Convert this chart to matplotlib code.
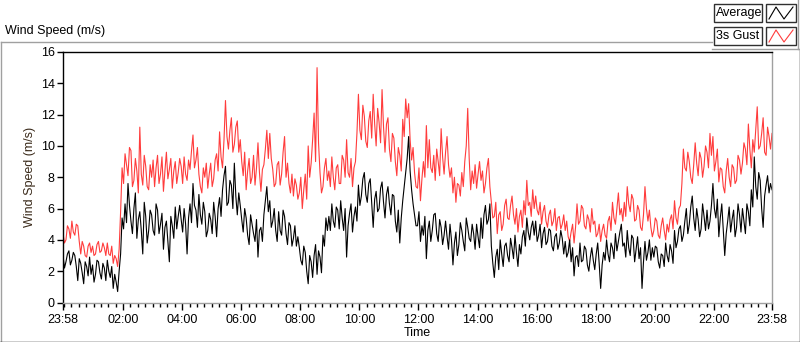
import numpy as np
import matplotlib
matplotlib.use("Agg")
import matplotlib.pyplot as plt
from matplotlib.lines import Line2D
from matplotlib.patches import Rectangle

plt.rcParams['font.family'] = ['Liberation Sans', 'DejaVu Sans']

# 3-minute samples, one row per hour, starting at 23:58
avg_speed = [
    3.0, 2.2, 2.6, 3.1, 3.3, 2.4, 2.7, 3.2, 3.0, 2.3, 1.4, 2.8, 2.5, 1.9, 1.2, 2.6, 2.3, 1.7, 2.9, 1.8,
    2.4, 1.3, 1.8, 2.7, 2.6, 1.9, 1.5, 2.5, 2.2, 1.4, 2.7, 2.0, 1.6, 2.3, 0.9, 1.8, 1.3, 0.7, 2.0, 3.1,
    5.4, 4.7, 6.3, 5.1, 7.6, 6.2, 5.2, 4.4, 6.0, 7.0, 4.1, 5.3, 5.8, 4.6, 3.1, 6.4, 5.5, 3.8, 4.6, 5.9,
    5.6, 4.6, 4.3, 6.3, 5.9, 4.4, 5.0, 5.7, 3.4, 4.8, 5.2, 3.9, 2.6, 5.5, 4.9, 4.1, 6.1, 4.7, 5.5, 6.2,
    5.3, 4.5, 6.0, 5.0, 3.1, 5.4, 6.3, 5.1, 7.6, 6.2, 5.9, 4.8, 6.9, 5.6, 5.0, 6.4, 5.8, 4.2, 4.6, 5.7,
    5.3, 4.4, 6.4, 5.5, 4.2, 6.0, 6.7, 5.5, 7.2, 8.1, 8.7, 6.2, 6.4, 7.8, 7.5, 6.0, 8.9, 6.8, 5.6, 7.0,
    6.2, 5.3, 4.5, 6.0, 5.4, 4.3, 3.7, 5.6, 5.0, 4.4, 3.9, 5.3, 2.9, 4.6, 4.8, 3.9, 5.6, 6.5, 7.4, 5.8,
    6.5, 4.8, 5.2, 6.0, 4.6, 3.9, 5.8, 4.6, 4.3, 5.9, 5.5, 4.4, 3.7, 5.1, 4.9, 3.6, 4.1, 4.9, 3.6, 4.2,
    3.5, 2.7, 2.4, 3.6, 3.2, 2.0, 1.2, 3.0, 2.6, 1.6, 3.0, 3.7, 1.8, 3.3, 2.9, 1.9, 4.3, 3.6, 5.4, 4.6,
    5.5, 4.6, 6.3, 5.2, 4.8, 6.1, 5.9, 4.7, 6.5, 5.4, 4.6, 6.0, 2.9, 4.9, 5.7, 6.3, 4.5, 5.5, 6.1, 5.2,
    7.5, 6.2, 6.8, 7.9, 8.3, 6.9, 6.4, 7.6, 7.9, 6.3, 4.8, 6.6, 7.1, 5.8, 6.0, 7.3, 7.7, 6.4, 5.4, 6.9,
    7.4, 6.3, 5.6, 6.9, 6.8, 5.2, 4.5, 5.9, 3.8, 5.4, 6.5, 7.4, 8.3, 9.2, 10.6, 8.4, 7.2, 6.3, 5.6, 4.9,
    4.9, 5.8, 3.9, 4.9, 4.3, 5.5, 2.8, 4.6, 5.2, 3.9, 4.6, 5.6, 5.7, 4.4, 3.9, 5.3, 4.8, 3.7, 4.3, 5.2,
    4.2, 3.4, 5.0, 4.0, 2.4, 3.8, 4.5, 3.0, 3.7, 5.1, 4.6, 3.9, 3.3, 5.4, 4.8, 4.1, 3.9, 5.0, 4.4, 3.4,
    5.0, 4.2, 3.5, 5.4, 4.1, 5.6, 6.2, 5.0, 5.3, 6.3, 3.6, 2.5, 1.6, 2.9, 3.4, 2.1, 4.0, 3.1, 2.3, 3.6,
    3.8, 3.0, 2.6, 4.1, 3.5, 2.8, 4.3, 3.2, 2.3, 3.7, 3.1, 4.2, 4.6, 3.6, 5.4, 4.5, 4.0, 4.8, 5.2, 4.3,
    5.2, 3.9, 4.3, 5.0, 3.5, 4.4, 4.8, 3.7, 3.9, 4.7, 4.6, 3.6, 3.3, 4.2, 4.4, 3.4, 3.8, 4.6, 4.1, 3.1,
    3.9, 2.9, 3.2, 4.0, 2.6, 3.5, 1.7, 2.9, 3.0, 2.3, 3.8, 2.6, 2.7, 3.6, 3.4, 2.4, 2.0, 2.9, 3.5, 2.7,
    2.1, 3.1, 3.8, 2.5, 0.9, 2.4, 3.2, 2.7, 4.0, 3.1, 2.6, 3.8, 3.5, 2.8, 4.4, 3.3, 3.9, 4.5, 5.0, 3.6,
    3.8, 2.9, 4.6, 3.5, 3.0, 4.3, 4.1, 2.6, 3.4, 4.2, 2.8, 3.5, 0.9, 2.6, 3.9, 2.7, 3.2, 4.0, 2.7, 3.5,
    2.9, 3.6, 3.5, 2.6, 2.2, 3.1, 3.0, 2.3, 3.8, 3.0, 2.6, 3.7, 3.3, 2.5, 4.6, 3.5, 3.9, 4.7, 4.9, 3.9,
    4.3, 5.2, 6.0, 4.4, 5.0, 6.1, 6.8, 5.4, 4.6, 6.0, 5.3, 4.2, 4.7, 6.3, 5.5, 4.6, 5.9, 4.7, 5.2, 6.2,
    7.6, 6.0, 5.4, 6.6, 4.2, 5.4, 6.3, 4.6, 3.0, 4.4, 5.2, 6.1, 4.5, 5.3, 5.9, 4.2, 4.8, 6.3, 5.6, 4.5,
    6.0, 5.2, 4.4, 6.3, 5.8, 4.9, 7.2, 6.1, 9.3, 7.4, 6.6, 8.3, 7.8, 6.0, 4.8, 6.8, 7.5, 8.1, 7.0, 7.6,
    7.2,
]
gust_speed = [
    4.4, 3.8, 4.0, 4.9, 4.7, 4.1, 5.2, 4.5, 4.3, 5.0, 4.9, 3.9, 3.1, 3.9, 3.6, 3.0, 2.9, 3.6, 3.8, 3.2,
    3.6, 3.0, 3.1, 3.7, 3.9, 3.2, 3.3, 3.8, 3.5, 3.0, 3.8, 3.1, 3.0, 3.6, 2.5, 3.0, 2.8, 2.3, 3.4, 5.8,
    8.6, 7.6, 9.5, 8.8, 8.1, 9.9, 9.7, 7.4, 7.8, 9.2, 8.4, 7.0, 11.2, 8.2, 7.5, 9.4, 8.7, 7.4, 7.2, 8.8,
    8.0, 9.1, 7.4, 8.6, 9.4, 7.6, 8.2, 9.3, 7.1, 8.4, 9.6, 7.9, 8.5, 9.2, 7.3, 8.4, 9.0, 7.6, 8.3, 9.2,
    8.7, 7.6, 9.3, 8.2, 7.8, 9.1, 8.5, 9.7, 10.7, 8.6, 9.1, 9.9, 8.2, 7.4, 7.0, 8.6, 8.0, 8.9, 7.3, 8.2,
    8.9, 7.4, 7.9, 9.1, 9.5, 8.4, 10.9, 9.3, 8.6, 10.4, 12.9, 10.6, 9.8, 11.0, 11.8, 9.6, 10.1, 11.2, 11.6, 9.6,
    10.4, 9.0, 8.1, 9.6, 7.2, 8.4, 9.2, 7.6, 8.0, 9.4, 7.5, 8.6, 10.2, 8.3, 7.1, 8.5, 8.8, 9.8, 11.0, 9.2,
    10.8, 9.2, 8.5, 7.4, 7.6, 8.8, 9.0, 7.5, 8.2, 9.6, 10.6, 8.0, 8.9, 7.6, 7.0, 8.2, 6.8, 7.9, 7.5, 6.6,
    7.0, 8.0, 6.0, 7.2, 8.2, 6.6, 10.0, 8.0, 8.9, 10.4, 12.1, 9.0, 15.0, 10.2, 8.3, 7.0, 7.4, 8.6, 9.2, 7.8,
    8.4, 7.4, 9.3, 8.0, 7.2, 8.6, 8.8, 7.6, 7.6, 9.4, 9.1, 8.0, 10.4, 8.3, 8.0, 9.2, 7.4, 8.6, 9.0, 10.8,
    13.3, 11.0, 10.4, 12.6, 11.9, 10.3, 9.9, 11.6, 12.2, 10.5, 13.3, 11.4, 10.0, 12.4, 11.5, 10.2, 13.6, 11.2, 9.6, 11.4,
    11.8, 9.8, 9.0, 10.8, 10.5, 9.0, 8.1, 9.9, 9.4, 8.4, 11.7, 10.6, 13.0, 11.8, 12.7, 10.4, 9.1, 9.9, 8.3, 7.4,
    7.3, 8.6, 6.5, 7.9, 9.0, 8.0, 11.3, 8.6, 10.4, 8.6, 8.3, 9.4, 7.8, 9.8, 9.0, 8.1, 11.1, 9.3, 8.2, 9.6,
    10.6, 8.8, 8.0, 8.6, 7.0, 8.0, 6.4, 7.6, 7.5, 6.8, 8.3, 7.4, 9.0, 10.0, 12.4, 9.2, 7.2, 8.4, 7.6, 8.8,
    7.3, 8.2, 9.0, 7.8, 8.4, 7.0, 7.6, 8.6, 9.2, 7.4, 6.4, 5.4, 5.5, 6.4, 4.4, 5.6, 5.8, 4.6, 5.0, 6.2,
    6.6, 5.4, 5.3, 6.2, 6.8, 5.6, 5.0, 6.0, 4.5, 5.5, 5.9, 4.8, 6.5, 5.6, 7.8, 6.2, 6.4, 5.5, 7.2, 6.0,
    6.8, 5.9, 5.6, 6.4, 5.0, 5.8, 6.2, 5.2, 4.8, 5.6, 5.9, 4.9, 5.2, 6.0, 4.6, 5.4, 5.5, 4.7, 5.0, 5.6,
    4.6, 5.2, 4.2, 3.9, 4.5, 5.0, 3.8, 4.8, 6.3, 5.0, 5.2, 6.2, 6.0, 4.9, 4.7, 5.6, 5.3, 4.5, 6.0, 5.0,
    5.2, 4.2, 4.4, 5.0, 3.9, 4.6, 5.0, 4.3, 4.1, 5.2, 5.5, 4.6, 6.4, 5.4, 5.0, 6.0, 7.0, 5.6, 6.0, 5.2,
    6.4, 5.5, 7.4, 6.3, 5.8, 6.9, 6.6, 5.2, 5.3, 6.2, 5.9, 4.8, 4.6, 5.6, 7.4, 6.0, 5.2, 5.9, 4.8, 4.2,
    4.6, 5.4, 5.2, 4.3, 4.1, 4.9, 5.4, 4.6, 4.0, 5.0, 4.5, 5.3, 5.6, 4.7, 6.5, 5.4, 5.0, 6.0, 6.2, 7.6,
    9.8, 8.6, 8.4, 9.6, 9.0, 8.0, 7.6, 8.8, 10.2, 8.9, 8.1, 9.6, 9.2, 8.0, 8.7, 10.0, 9.6, 8.6, 10.8, 9.4,
    10.6, 8.4, 9.0, 9.8, 7.7, 8.6, 8.5, 7.4, 7.0, 8.4, 9.2, 8.0, 7.4, 8.8, 8.6, 7.6, 7.8, 9.4, 9.1, 8.2,
    8.9, 10.2, 9.8, 8.8, 11.4, 9.8, 8.6, 10.4, 9.6, 11.0, 12.5, 9.8, 10.0, 10.8, 11.8, 9.6, 9.4, 11.2, 10.6, 9.8,
    10.8,
]
hours = np.arange(len(avg_speed)) * 0.05

tick_labels = ['23:58', '02:00', '04:00', '06:00', '08:00', '10:00', '12:00',
               '14:00', '16:00', '18:00', '20:00', '22:00', '23:58']
tick_hours = [0] + [2 + 2/60 + 2*i for i in range(11)] + [24]

W, H = 800, 342
fig = plt.figure(figsize=(W/100, H/100), dpi=100)

def fx(px):
    return px / W

def fy(py):
    return 1 - py / H

ax = fig.add_axes([fx(63), fy(302.5), fx(772) - fx(63), fy(52) - fy(302.5)])
ax.plot(hours, gust_speed, color='#ff3c3c', lw=0.8)
ax.plot(hours, avg_speed, color='black', lw=0.8)

ax.set_xlim(0, 24)
ax.set_ylim(0, 16)
ax.set_yticks(range(0, 17, 2))
ax.set_xticks(tick_hours)
ax.set_xticklabels(tick_labels)
minor = [2 + 2/60 + 0.25*k for k in range(-8, 88)]
ax.set_xticks([m for m in minor if 0 < m < 24], minor=True)
ax.tick_params(axis='both', which='major', direction='out', length=4, width=1,
               labelsize=9, colors='black', pad=2)
ax.tick_params(axis='x', which='minor', direction='out', length=3, width=1)
ax.tick_params(axis='x', which='major', length=5, pad=3)

ax.set_xlabel('Time', fontsize=9, labelpad=1)
ax.set_ylabel('Wind Speed (m/s)', fontsize=9, labelpad=3, color='#3a2a1a')

for side in ['top', 'left']:
    ax.spines[side].set_color('black')
for side in ['bottom', 'right']:
    ax.spines[side].set_color('#a0a0a0')
for sp in ax.spines.values():
    sp.set_linewidth(1)

# panel frame (LabVIEW style)
gray = '#a0a0a0'
def fline(x0, y0, x1, y1, c, lw=1):
    fig.add_artist(Line2D([fx(x0), fx(x1)], [fy(y0), fy(y1)], color=c, lw=lw))

fline(0.5, 42, 712, 42, gray)
fline(0.5, 42, 0.5, 342, gray)
fline(0, 341.5, 800, 341.5, 'black')
fline(799.5, 49, 799.5, 342, 'black')
fline(712, 49, 800, 49, gray)
fline(798, 0, 798, 49, gray)

fig.text(fx(5), fy(31), 'Wind Speed (m/s)', fontsize=9, va='center', ha='left')

# legend boxes
legend_items = ['Average', '3s Gust']
legend_colors = ['black', '#ff3c3c']
for i, (name, col) in enumerate(zip(legend_items, legend_colors)):
    top = 4 + i * 23
    fig.add_artist(Rectangle((fx(714), fy(top + 18)), fx(762) - fx(714), fy(top) - fy(top + 18),
                             facecolor='white', edgecolor='#303030', lw=1))
    fig.text(fx(716), fy(top + 9), name, fontsize=9, va='center', ha='left')
    fig.add_artist(Rectangle((fx(766), fy(top + 18)), fx(796) - fx(766), fy(top) - fy(top + 18),
                             facecolor='white', edgecolor='#303030', lw=1))
    zx = [769, 776, 784, 793]
    zy = [top + 15, top + 3, top + 15, top + 3]
    fig.add_artist(Line2D([fx(v) for v in zx], [fy(v) for v in zy], color=col, lw=0.8))

fig.savefig('out.png', dpi=100)
